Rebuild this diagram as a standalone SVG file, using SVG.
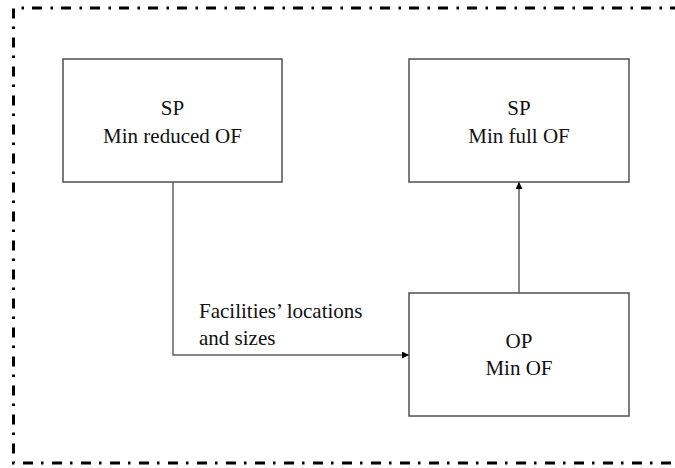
<svg xmlns="http://www.w3.org/2000/svg" width="675" height="468" viewBox="0 0 675 468">
<style>
.box{fill:#fff;stroke:#505050;stroke-width:1.5}
.t{font-family:'Liberation Serif','Times New Roman',Tinos,'DejaVu Serif',serif;font-size:21px;fill:#111}
.c{text-anchor:middle}
.conn{fill:none;stroke:#606060;stroke-width:1.5}
.frame{fill:none;stroke:#000;stroke-width:3;stroke-dasharray:10 8 2.5 8.5}
</style>
<defs>
<marker id="ah" viewBox="0 0 10 10" refX="10" refY="5" markerWidth="7" markerHeight="7" markerUnits="userSpaceOnUse" orient="auto">
<path d="M0,0 L10,5 L0,10 z" fill="#000"/>
</marker>
</defs>
<path class="frame" d="M680,8 L13.5,8 L13.5,463 L680,463"/>
<g id="sp-reduced">
<rect class="box" x="63" y="59" width="219" height="123"/>
<text class="t c" x="172.5" y="115" font-family="Liberation Serif, serif">SP</text>
<text class="t c" x="172.5" y="143" font-family="Liberation Serif, serif">Min reduced OF</text>
</g>
<g id="sp-full">
<rect class="box" x="409" y="59" width="220" height="123"/>
<text class="t c" x="519" y="115">SP</text>
<text class="t c" x="519" y="143">Min full OF</text>
</g>
<g id="op">
<rect class="box" x="409" y="293" width="220" height="123"/>
<text class="t c" x="519" y="348">OP</text>
<text class="t c" x="519" y="375">Min OF</text>
</g>
<g id="connectors">
<path class="conn" d="M173,182 L173,355 L409,355" marker-end="url(#ah)"/>
<path class="conn" d="M519,293 L519,182" marker-end="url(#ah)"/>
<text class="t" x="199" y="318">Facilities’ locations</text>
<text class="t" x="199" y="345">and sizes</text>
</g>
</svg>
